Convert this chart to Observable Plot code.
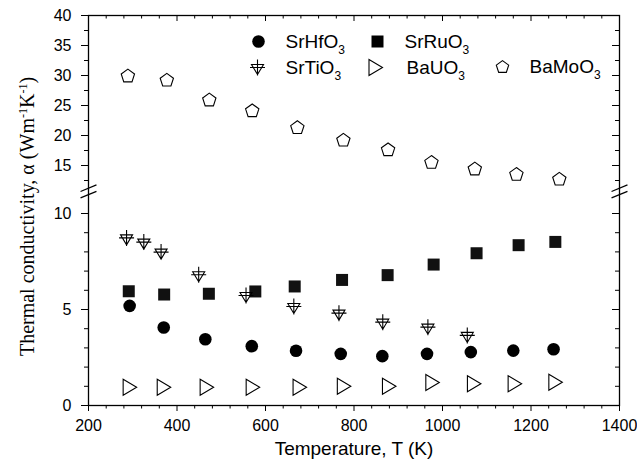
<!DOCTYPE html>
<html>
<head>
<meta charset="utf-8">
<script src="https://cdn.jsdelivr.net/npm/d3@7"></script>
<script src="https://cdn.jsdelivr.net/npm/@observablehq/plot@0.6"></script>
<style>
  html, body { margin: 0; padding: 0; background: white; }
</style>
</head>
<body>
<div id="chart"></div>
<script>
// ---- data ----
const seriesNames = ["SrHfO3", "SrRuO3", "SrTiO3", "BaUO3", "BaMoO3"];

const srhfoT = [293, 370, 464, 569, 669, 770, 864, 965, 1064, 1160, 1251];
const srhfoK = [5.19, 4.06, 3.45, 3.09, 2.85, 2.69, 2.57, 2.69, 2.78, 2.86, 2.93];

const srruoT = [291, 371, 472, 577, 666, 773, 876, 980, 1077, 1172, 1255];
const srruoK = [5.95, 5.78, 5.82, 5.94, 6.2, 6.54, 6.79, 7.34, 7.93, 8.35, 8.52];

const srtioT = [286, 325, 364, 449, 556, 664, 766, 865, 967, 1056];
const srtioK = [8.73, 8.51, 7.99, 6.81, 5.73, 5.16, 4.81, 4.34, 4.08, 3.65];

const bauoT = [293, 370, 467, 571, 677, 777, 879, 977, 1071, 1163, 1255];
const bauoK = [0.95, 0.95, 0.95, 0.95, 0.95, 1.0, 1.0, 1.2, 1.13, 1.13, 1.21];

const bamoT = [289, 377, 473, 570, 672, 776, 877, 975, 1073, 1167, 1264];
const bamoK = [30.0, 29.3, 26.0, 24.2, 21.4, 19.3, 17.7, 15.6, 14.5, 13.6, 12.8];

const xMajor = [200, 400, 600, 800, 1000, 1200, 1400];
const yMajor = [0, 5, 10, 15, 20, 25, 30, 35, 40];
const yMinor = [1, 2, 3, 4, 6, 7, 8, 9, 12.5, 17.5, 22.5, 27.5, 32.5, 37.5];
const xLabel = "Temperature, T (K)";
const yLabelParts = ["Thermal conductivity, \u03b1 (Wm", "-1", "K", "-1", ")"];

// ---- broken y axis: lower segment 0..~11 at full scale, upper segment compressed ----
const upperStart = 12.5, upperRef = 15, upperFactor = 0.3125;
function yd(v) { return v <= 11 ? v : upperStart + (v - upperRef) * upperFactor; }
const breakY = 11.15;

const xMinor = d3.range(200, 1401, 40).filter(v => !xMajor.includes(v));
const zip = (T, K) => T.map((t, i) => ({T: t, k: K[i]}));
const hf = zip(srhfoT, srhfoK), ru = zip(srruoT, srruoK), ti = zip(srtioT, srtioK),
      bu = zip(bauoT, bauoK), bm = zip(bamoT, bamoK);

const labelOf = new Map(yMajor.map(v => [yd(v), String(v)]));

// ---- custom symbols ----
const rad = size => Math.sqrt(size / Math.PI);
const symSquare = { draw(c, size) { const s = rad(size); c.rect(-s, -s, 2 * s, 2 * s); } };
const symTriRight = { draw(c, size) { const s = rad(size) / 6;
  c.moveTo(-6.5 * s, -8 * s); c.lineTo(7 * s, 0); c.lineTo(-6.5 * s, 8 * s); c.closePath(); } };
const symPent = { draw(c, size) { const R = rad(size); const sh = 0.095 * R;
  for (let k = 0; k < 5; k++) { const a = -Math.PI / 2 + k * 2 * Math.PI / 5;
    const x = R * Math.cos(a), y = R * Math.sin(a) + sh; if (k) c.lineTo(x, y); else c.moveTo(x, y); }
  c.closePath(); } };
const symTriCross = { draw(c, size) { const s = rad(size) / 6;
  c.moveTo(-6 * s, -3 * s); c.lineTo(6 * s, -3 * s); c.lineTo(0, 7 * s); c.closePath();
  c.moveTo(-7.5 * s, 0); c.lineTo(7.5 * s, 0);
  c.moveTo(0, -8 * s); c.lineTo(0, 8 * s); } };

const W = 637, H = 464, mL = 88, mR = 18, mT = 15, mB = 59;
const innerW = W - mL - mR, innerH = H - mT - mB;

const breakData = [];
for (const xv of [200, 1400]) for (const off of [-0.167, 0.167])
  breakData.push({x1: xv - 18, y1: breakY + off - 0.172, x2: xv + 18, y2: breakY + off + 0.172});

const legendItems = [
  {name: seriesNames[0], sym: "circle", fill: "black", dx: 170, dy: 26, tx: 197},
  {name: seriesNames[1], sym: symSquare, fill: "black", dx: 289, dy: 26, tx: 316},
  {name: seriesNames[2], sym: symTriCross, fill: "none", dx: 169, dy: 52, tx: 197},
  {name: seriesNames[3], sym: symTriRight, fill: "none", dx: 287, dy: 52, tx: 318},
  {name: seriesNames[4], sym: symPent, fill: "none", dx: 414, dy: 51, tx: 441}
];

const marks = [
  Plot.frame({stroke: "black", strokeWidth: 1.3}),
  Plot.axisX({ticks: xMajor, tickSize: 6, tickPadding: 8, label: null, tickFormat: d => String(d), fontSize: 16}),
  Plot.axisX({ticks: xMinor, tickSize: 3.5, label: null, tickFormat: () => ""}),
  Plot.axisY({ticks: yMajor.map(yd), tickSize: 7, tickPadding: 10, label: null, tickFormat: d => labelOf.get(d), fontSize: 16}),
  Plot.axisY({ticks: yMinor.map(yd), tickSize: 4, label: null, tickFormat: () => ""}),
  Plot.ruleX(xMajor, {x: d => d, insetBottom: innerH - 6, stroke: "black"}),
  Plot.ruleX(xMinor, {x: d => d, insetBottom: innerH - 3.5, stroke: "black"}),
  Plot.ruleY(yMajor, {y: d => yd(d), insetLeft: innerW - 7, stroke: "black"}),
  Plot.ruleY(yMinor, {y: d => yd(d), insetLeft: innerW - 4, stroke: "black"}),
  Plot.link(breakData, {x1: "x1", y1: "y1", x2: "x2", y2: "y2", stroke: "black", strokeWidth: 1.2}),
  Plot.dot(bu, {x: "T", y: d => yd(d.k), symbol: symTriRight, r: 6, fill: "none", stroke: "black", strokeWidth: 1.1}),
  Plot.dot(hf, {x: "T", y: d => yd(d.k), symbol: "circle", r: 6.3, fill: "black", stroke: "none"}),
  Plot.dot(ru, {x: "T", y: d => yd(d.k), symbol: symSquare, r: 6, fill: "#111", stroke: "none"}),
  Plot.dot(ti, {x: "T", y: d => yd(d.k), symbol: symTriCross, r: 6, fill: "none", stroke: "black", strokeWidth: 1.1}),
  Plot.dot(bm, {x: "T", y: d => yd(d.k), symbol: symPent, r: 7, fill: "none", stroke: "black", strokeWidth: 1.1}),
  // legend
  ...legendItems.map(it => Plot.dot([it], {frameAnchor: "top-left", dx: it.dx, dy: it.dy, symbol: it.sym,
      r: it.sym === symPent ? 6.5 : (it.sym === "circle" ? 6.3 : 6), fill: it.fill,
      stroke: it.fill === "none" ? "black" : "none", strokeWidth: 1.1})),
  ...legendItems.map(it => Plot.text([it], {frameAnchor: "top-left", dx: it.tx, dy: it.dy, text: "name",
      textAnchor: "start", lineAnchor: "middle", fontSize: 19, fill: "black", className: "legend-text"})),
  // axis titles
  Plot.text([xLabel], {frameAnchor: "bottom", dy: 43, text: d => d, lineAnchor: "middle", fontSize: 19, fill: "black"}),
  Plot.text([yLabelParts.join("")], {frameAnchor: "left", dx: -61, dy: 6, text: d => d, rotate: -90,
      lineAnchor: "middle", textAnchor: "middle", fontSize: 20, fill: "black",
      fontFamily: "'Liberation Serif', 'Times New Roman', serif", className: "ylab"})
];

const svg = Plot.plot({
  width: W, height: H, marginLeft: mL, marginRight: mR, marginTop: mT, marginBottom: mB,
  style: {fontFamily: "'Liberation Sans', Arial, sans-serif", fontSize: "16px", color: "black", background: "white"},
  x: {domain: [200, 1400]},
  y: {domain: [0, yd(40)]},
  marks
});

const NS = "http://www.w3.org/2000/svg";
// subscripts in legend
svg.querySelectorAll("g.legend-text text").forEach(t => {
  const s = t.textContent;
  t.textContent = s.slice(0, -1);
  const ts = document.createElementNS(NS, "tspan");
  ts.setAttribute("dy", "6.5");
  ts.setAttribute("font-size", "12");
  ts.textContent = s.slice(-1);
  t.appendChild(ts);
});
// superscripts in y label
svg.querySelectorAll("g.ylab text").forEach(t => {
  t.textContent = "";
  const dys = [0, -7, 7, -7, 7];
  yLabelParts.forEach((p, i) => {
    const ts = document.createElementNS(NS, "tspan");
    ts.textContent = p;
    if (dys[i]) ts.setAttribute("dy", dys[i]);
    if (i === 1 || i === 3) ts.setAttribute("font-size", "12");
    t.appendChild(ts);
  });
});

document.getElementById("chart").appendChild(svg);
</script>
</body>
</html>
